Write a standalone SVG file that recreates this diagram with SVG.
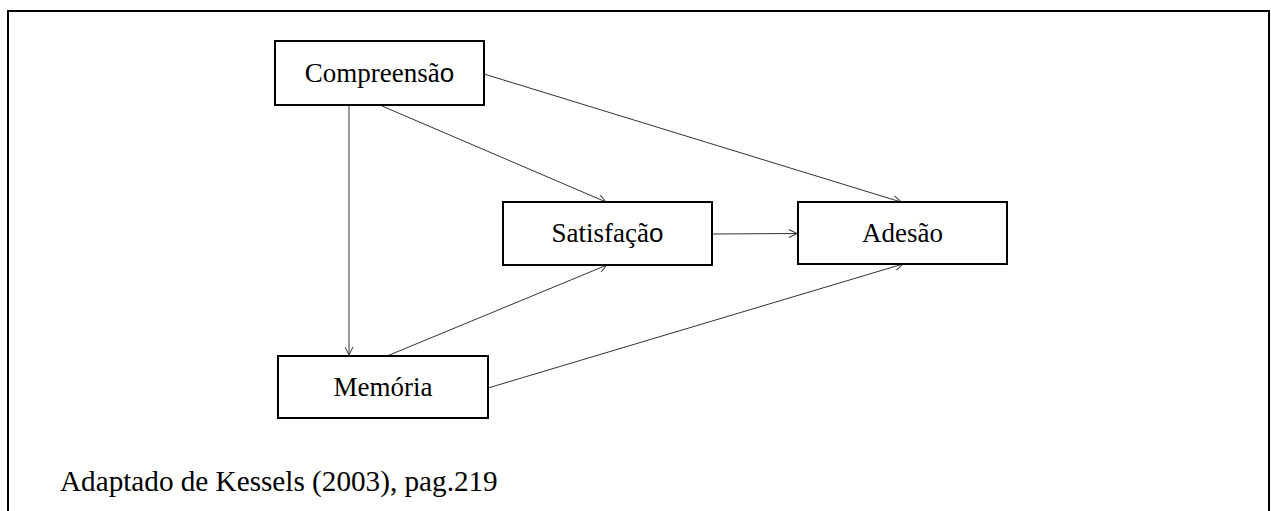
<svg xmlns="http://www.w3.org/2000/svg" width="1271" height="511" viewBox="0 0 1271 511">
<style>
.box{fill:#fff;stroke:#000;stroke-width:2}
.lbl{font-family:"Liberation Serif","Times New Roman",serif;font-size:27px;fill:#000;text-anchor:middle}
.o{font-family:"Liberation Sans",Arial,sans-serif;font-size:26px}
.cap{font-family:"Liberation Serif","Times New Roman",serif;font-size:29.2px;fill:#000}
.conn line{stroke:#333;stroke-width:1;fill:none;marker-end:url(#arr)}
</style>
<defs>
<marker id="arr" viewBox="0 0 9 9" refX="8.5" refY="4.5" markerWidth="9" markerHeight="9" markerUnits="userSpaceOnUse" orient="auto">
<path d="M0.5,0.5 L8.5,4.5 L0.5,8.5" fill="none" stroke="#333" stroke-width="1"/>
</marker>
</defs>
<rect width="1271" height="511" fill="#fff"/>
<path d="M8,511 V11 H1269 V511" fill="none" stroke="#000" stroke-width="2"/>
<g id="connectors" class="conn">
<line x1="349" y1="106" x2="349" y2="355"/>
<line x1="382" y1="106" x2="606" y2="202"/>
<line x1="484" y1="74" x2="901" y2="202"/>
<line x1="712" y1="234" x2="797" y2="233.5"/>
<line x1="387" y1="356" x2="607" y2="265"/>
<line x1="488" y1="388" x2="903" y2="264"/>
</g>
<g id="compreensao">
<rect class="box" x="275" y="41" width="209" height="64"/>
<text class="lbl" x="379.5" y="82">Compreensã<tspan class="o">o</tspan></text>
</g>
<g id="satisfacao">
<rect class="box" x="503" y="202" width="209" height="63"/>
<text class="lbl" x="607.5" y="242">Satisfaçã<tspan class="o">o</tspan></text>
</g>
<g id="adesao">
<rect class="box" x="798" y="202" width="209" height="62"/>
<text class="lbl" x="902.5" y="242">Adesão</text>
</g>
<g id="memoria">
<rect class="box" x="278" y="356" width="210" height="62"/>
<text class="lbl" x="383" y="396">Memória</text>
</g>
<text id="caption" class="cap" x="60" y="491">Adaptado de Kessels (2003), pag.219</text>
</svg>
